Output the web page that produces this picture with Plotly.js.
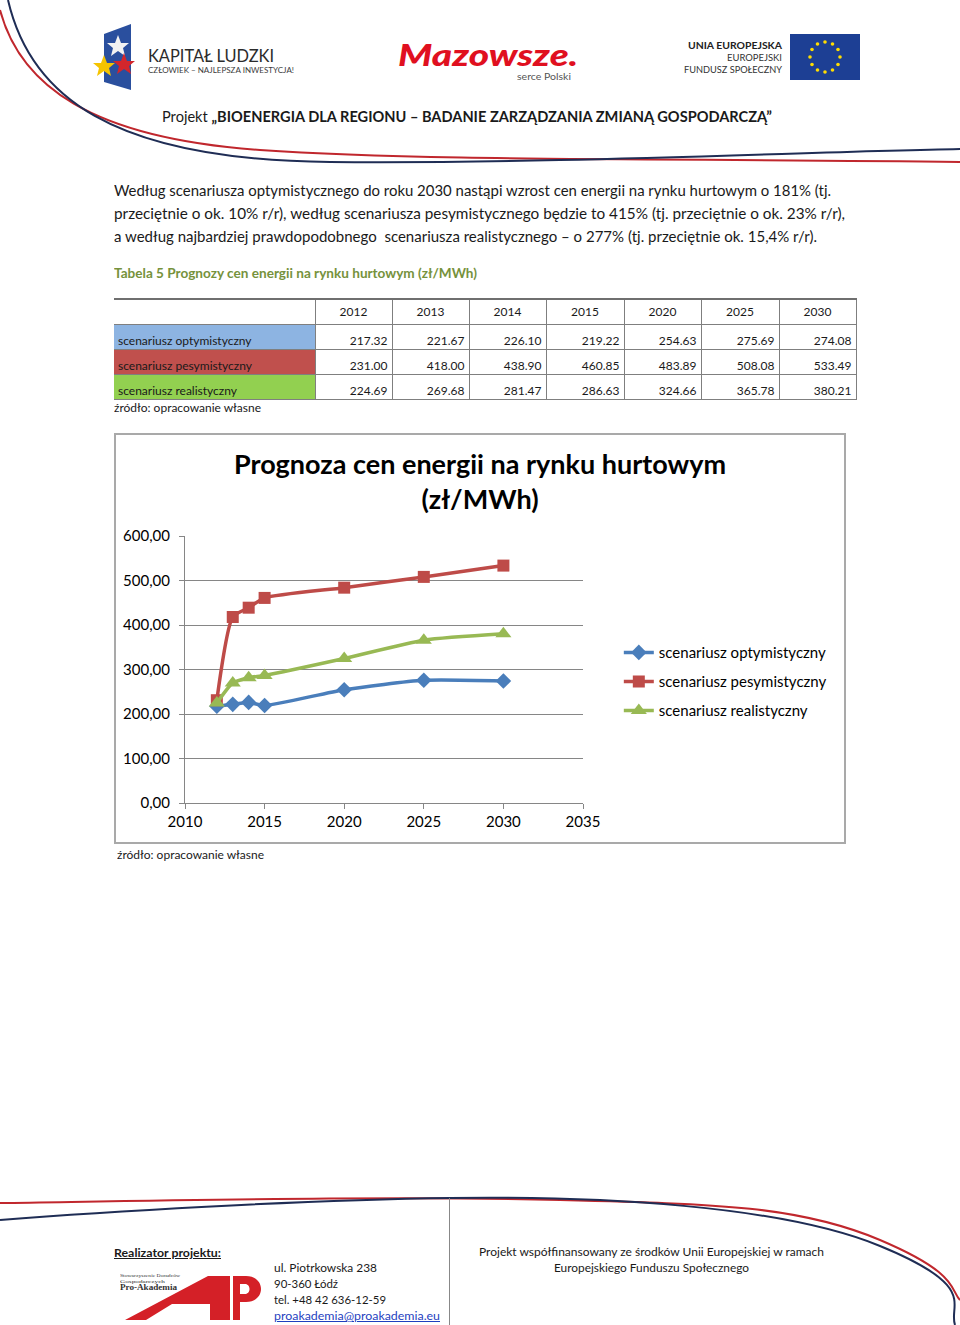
<!DOCTYPE html>
<html>
<head>
<meta charset="utf-8">
<script src="https://cdn.plot.ly/plotly-3.0.1.min.js"></script>
<style>
  html, body { margin: 0; padding: 0; background: #fff; }
  #page { position: relative; width: 960px; height: 1325px; overflow: hidden; font-family: Lato, "Open Sans", sans-serif; color: #1a1a1a; }
  .t { position: absolute; white-space: nowrap; transform-origin: 0 50%; }
  #deco { position: absolute; left: 0; top: 0; }
  #tbl { position: absolute; left: 114px; top: 298px; border-collapse: collapse; font-size: 12px; table-layout: fixed; }
  #tbl td { border: 1px solid #7f7f7f; padding: 0 4px 1px 4px; height: 25px; box-sizing: border-box; }
  #tbl tr.hd td { border-top: 2px solid #6f6f6f; text-align: center; vertical-align: middle; height: 25px; }
  #tbl tr.hd td:first-child { border-left: none; }
  #tbl td.lab { text-align: left; vertical-align: bottom; border-left: none; }
  #tbl td.val { text-align: right; vertical-align: bottom; }
  #box { position: absolute; left: 114px; top: 433px; width: 728px; height: 407px; border: 2px solid #a9a9a9; }
  #chart { width: 728px; height: 407px; }
</style>
</head>
<body>
<div id="page">
  <svg id="deco" width="960" height="1325" viewBox="0 0 960 1325">
    <!-- header curves -->
    <path d="M0,10 C20,85 90,138 260,150 S 700,158 960,162" fill="none" stroke="#c0272d" stroke-width="2"/>
    <path d="M8,0 C30,95 110,160 330,162 S 800,152 960,149" fill="none" stroke="#1f2d55" stroke-width="2"/>
    <!-- Kapital Ludzki logo -->
    <polygon points="104,34 131,24 131,90 104,82" fill="#2a4f9e"/>
    <polygon points="118,35 121,43 129,43 123,48 125,56 118,51 111,56 113,48 107,43 115,43" fill="#f2f2f2"/>
    <polygon points="124,53 127,61 135,61 129,66 131,74 124,69 117,74 119,66 113,61 121,61" fill="#d2262c"/>
    <polygon points="104,55 107,63 115,63 109,68 111,76 104,71 97,76 99,68 93,63 101,63" fill="#f5c400"/>
    <!-- EU flag -->
    <rect x="790" y="34" width="70" height="46" fill="#1d3f94"/>
    <g id="eustars" fill="#ffdd00"></g>
    <!-- footer curves -->
    <path d="M0,1203 C200,1200 400,1196 560,1200 S 800,1206 880,1240 S 950,1290 960,1300" fill="none" stroke="#c0272d" stroke-width="2"/>
    <path d="M0,1220 C100,1212 300,1200 450,1198 S 780,1205 880,1246 S 948,1305 955,1325" fill="none" stroke="#1f2d55" stroke-width="2"/>
    <line x1="449.5" y1="1198" x2="449.5" y2="1325" stroke="#888" stroke-width="1"/>
    <!-- Pro-Akademia logo -->
    <polygon points="125,1320 208,1276 230,1276 230,1320 210,1320 210,1304 172,1304 146,1320" fill="#d42027"/>
    <path d="M233,1276 L246,1276 C266,1276 266,1302 246,1302 L240,1302 L240,1320 L233,1320 Z M240,1284 L245,1284 C251,1284 251,1294 245,1294 L240,1294 Z" fill="#d42027" fill-rule="evenodd"/>
  </svg>

  <div id="texts"></div>

  <table id="tbl"></table>

  <div id="box"><div id="chart"></div></div>
</div>

<script>
// ---------------- DATA ----------------
const years = [2012, 2013, 2014, 2015, 2020, 2025, 2030];
const optymistyczny = [217.32, 221.67, 226.10, 219.22, 254.63, 275.69, 274.08];
const pesymistyczny = [231.00, 418.00, 438.90, 460.85, 483.89, 508.08, 533.49];
const realistyczny = [224.69, 269.68, 281.47, 286.63, 324.66, 365.78, 380.21];
const seriesNames = ["scenariusz optymistyczny", "scenariusz pesymistyczny", "scenariusz realistyczny"];
const chartTitle = "Prognoza cen energii na rynku hurtowym<br>(zł/MWh)";
const yTickVals = [0, 100, 200, 300, 400, 500, 600];
const xTickVals = [2010, 2015, 2020, 2025, 2030, 2035];

// ---------------- EU stars ----------------
(function(){
  const g = document.getElementById('eustars');
  let s = '';
  for (let i = 0; i < 12; i++) {
    const a = i * Math.PI / 6;
    const cx = 825 + 15 * Math.sin(a), cy = 57 - 15 * Math.cos(a);
    s += '<circle cx="' + cx.toFixed(1) + '" cy="' + cy.toFixed(1) + '" r="1.8"/>';
  }
  g.innerHTML = s;
})();

// ---------------- TEXTS ----------------
const T = [];
function txt(x, yc, w, size, html, style, lh) { T.push({x, yc, w, size, html, style: style || '', lh: lh || 1.2}); }

txt(148, 56, 126, 17, 'KAPITAŁ LUDZKI', 'color:#2b2b2b;');
txt(148, 71, 146, 8, 'CZŁOWIEK – NAJLEPSZA INWESTYCJA!', 'color:#3a3a3a;');
txt(398, 55, 180, 30, 'Mazowsze.', 'color:#e0101f;font-weight:900;font-style:italic;', 0.85);
txt(517, 76, 54, 10, 'serce Polski', 'color:#555;', 1.0);
txt(688, 45, 94, 10, 'UNIA EUROPEJSKA', 'color:#222;font-weight:bold;');
txt(727, 57, 55, 10, 'EUROPEJSKI', 'color:#333;');
txt(684, 69, 98, 10, 'FUNDUSZ SPOŁECZNY', 'color:#333;');
txt(162, 116, 610, 15, 'Projekt <b>„BIOENERGIA DLA REGIONU – BADANIE ZARZĄDZANIA ZMIANĄ GOSPODARCZĄ”</b>', 'color:#1a1a1a;');

txt(114, 190, 717, 15, 'Według scenariusza optymistycznego do roku 2030 nastąpi wzrost cen energii na rynku hurtowym o 181% (tj.');
txt(114, 213, 731, 15, 'przeciętnie o ok. 10% r/r), według scenariusza pesymistycznego będzie to 415% (tj. przeciętnie o ok. 23% r/r),');
txt(114, 236, 703, 15, 'a według najbardziej prawdopodobnego&nbsp; scenariusza realistycznego – o 277% (tj. przeciętnie ok. 15,4% r/r).');
txt(114, 274, 363, 13, 'Tabela 5 Prognozy cen energii na rynku hurtowym (zł/MWh)', 'color:#76923c;font-weight:bold;');
txt(114, 408, 147, 12, 'źródło: opracowanie własne');
txt(117, 855, 147, 12, 'źródło: opracowanie własne');

txt(114, 1253, 107, 12, '<u>Realizator projektu:</u>', 'font-weight:bold;');
txt(120, 1275, 60, 5, 'Stowarzyszenie Doradców', 'font-family:\'Liberation Serif\',serif;color:#333;', 1.0);
txt(120, 1281, 45, 5, 'Gospodarczych', 'font-family:\'Liberation Serif\',serif;color:#333;', 1.0);
txt(120, 1287, 57, 9, 'Pro-Akademia', 'font-family:\'Liberation Serif\',serif;font-weight:bold;color:#333;', 1.0);
txt(274, 1268, 103, 12, 'ul. Piotrkowska 238');
txt(274, 1284, 64, 12, '90-360 Łódź');
txt(274, 1300, 112, 12, 'tel. +48 42 636-12-59');
txt(274, 1316, 166, 12, '<u>proakademia@proakademia.eu</u>', 'color:#1f3fbf;');
txt(479, 1252, 345, 12, 'Projekt współfinansowany ze środków Unii Europejskiej w ramach');
txt(554, 1268, 195, 12, 'Europejskiego Funduszu Społecznego');

(function(){
  const host = document.getElementById('texts');
  T.forEach(o => {
    const d = document.createElement('div');
    d.className = 't';
    const lhpx = o.size * o.lh;
    d.style.cssText += 'left:' + o.x + 'px;top:' + (o.yc - lhpx / 2) + 'px;font-size:' + o.size + 'px;line-height:' + lhpx + 'px;' + o.style;
    d.innerHTML = o.html;
    host.appendChild(d);
    const w = d.getBoundingClientRect().width;
    if (w > 0) d.style.transform = 'scaleX(' + (o.w / w).toFixed(4) + ')';
  });
})();

// ---------------- TABLE ----------------
(function(){
  const tbl = document.getElementById('tbl');
  const colW = [201, 77, 77, 77, 78, 77, 78, 77];
  let h = '<colgroup>' + colW.map(w => '<col style="width:' + w + 'px">').join('') + '</colgroup>';
  h += '<tr class="hd"><td></td>' + years.map(y => '<td>' + y + '</td>').join('') + '</tr>';
  const rows = [optymistyczny, pesymistyczny, realistyczny];
  const bg = ['#8db4e2', '#c0504d', '#92d050'];
  rows.forEach((r, i) => {
    h += '<tr><td class="lab" style="background:' + bg[i] + '">' + seriesNames[i] + '</td>' +
      r.map(v => '<td class="val">' + v.toFixed(2) + '</td>').join('') + '</tr>';
  });
  tbl.innerHTML = h;
  tbl.style.width = colW.reduce((a, b) => a + b, 0) + 'px';
})();

// ---------------- CHART ----------------
const colors = ['#4a7ebb', '#be4b48', '#98b954'];
const symbols = ['diamond', 'square', 'triangle-up'];
const sizes = [12, 12, 14];
const seriesData = [optymistyczny, pesymistyczny, realistyczny];

const traces = seriesData.map((vals, i) => ({
  type: 'scatter',
  mode: 'lines+markers',
  x: years,
  y: vals,
  name: seriesNames[i],
  legendgroup: 'g' + i,
  line: { color: colors[i], width: 3.5, shape: 'spline', smoothing: 0.6 },
  marker: { color: colors[i], symbol: symbols[i], size: sizes[i] },
  cliponaxis: false
}));

const layout = {
  width: 728,
  height: 407,
  margin: { l: 69, r: 252, t: 101, b: 39 },
  paper_bgcolor: '#ffffff',
  plot_bgcolor: '#ffffff',
  separators: ',.',
  font: { family: 'Lato, "Open Sans", sans-serif', size: 15, color: '#000' },
  title: {
    text: '<b>' + chartTitle + '</b>',
    font: { family: 'Lato, "Open Sans", sans-serif', size: 27, color: '#000' },
    x: 0.5, xref: 'container', xanchor: 'center',
    y: 0.904, yref: 'container', yanchor: 'top'
  },
  xaxis: {
    range: [2010, 2035],
    tickvals: xTickVals,
    showgrid: false,
    zeroline: false,
    showline: true,
    linecolor: '#868686',
    linewidth: 1,
    ticks: 'outside',
    ticklen: 5,
    tickcolor: '#868686',
    tickfont: { size: 15, color: '#000' }
  },
  yaxis: {
    range: [0, 600],
    tickvals: yTickVals,
    tickformat: '.2f',
    showgrid: true,
    gridcolor: '#868686',
    gridwidth: 1,
    zeroline: false,
    showline: true,
    linecolor: '#868686',
    linewidth: 1,
    ticks: 'outside',
    ticklen: 5,
    tickcolor: '#868686',
    ticklabelstandoff: 6,
    tickfont: { size: 15, color: '#000' }
  },
  showlegend: true,
  legend: {
    x: 1.09, xanchor: 'left',
    y: 0.625, yanchor: 'top',
    font: { size: 15, color: '#000' },
    tracegroupgap: 6.5,
    bgcolor: 'rgba(0,0,0,0)',
    itemwidth: 30
  }
};

Plotly.newPlot('chart', traces, layout, { displayModeBar: false, staticPlot: true });
</script>
</body>
</html>
